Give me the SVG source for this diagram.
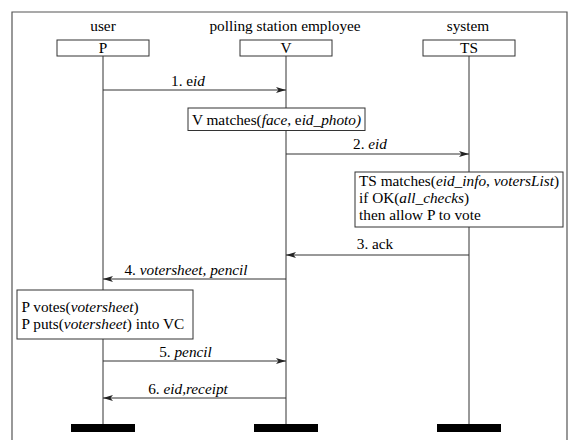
<svg xmlns="http://www.w3.org/2000/svg" width="568" height="440" viewBox="0 0 568 440" font-family="'Liberation Serif', 'Times New Roman', Tinos, 'DejaVu Serif', serif">
<style>
text{font-family:'Liberation Serif','Times New Roman',Tinos,'DejaVu Serif',serif;font-size:15.3px;fill:#000}
.m{text-anchor:middle}
.i{font-style:italic}
.box{fill:#fff;stroke:#333;stroke-width:1}
.life{stroke:#333;stroke-width:1;fill:none}
.msg{stroke:#333;stroke-width:1;fill:none;marker-end:url(#ah)}
.bar{fill:#000}
</style>
<defs>
<marker id="ah" viewBox="0 0 10 6" refX="10" refY="3" markerWidth="10" markerHeight="6" markerUnits="userSpaceOnUse" orient="auto">
<path d="M0,0 L10,3 L0,6 L2.5,3 z" fill="#222"/>
</marker>
</defs>
<rect width="568" height="440" fill="#fff"/>
<path d="M12,440 V12 H567 V440" fill="none" stroke="#555" stroke-width="1.2"/>
<g id="lifelines">
<line class="life" x1="103" y1="56" x2="103" y2="424"/>
<line class="life" x1="286" y1="56" x2="286" y2="424"/>
<line class="life" x1="469" y1="56" x2="469" y2="424"/>
</g>
<g id="user">
<text class="m" x="103" y="31">user</text>
<rect class="box" x="57" y="40" width="92" height="16"/>
<text class="m" x="103" y="52.5">P</text>
<rect class="bar" x="71" y="424" width="64" height="8"/>
</g>
<g id="employee">
<text class="m" x="285" y="31">polling station employee</text>
<rect class="box" x="240" y="40" width="92" height="16"/>
<text class="m" x="286" y="52.5">V</text>
<rect class="bar" x="254" y="424" width="64" height="8"/>
</g>
<g id="system">
<text class="m" x="468" y="31">system</text>
<rect class="box" x="423" y="40" width="92" height="16"/>
<text class="m" x="469" y="52.5">TS</text>
<rect class="bar" x="437" y="424" width="64" height="8"/>
</g>
<g id="connectors">
<line class="msg" x1="103" y1="90" x2="286" y2="90"/>
<line class="msg" x1="286" y1="154" x2="469" y2="154"/>
<line class="msg" x1="469" y1="255" x2="286" y2="255"/>
<line class="msg" x1="286" y1="279" x2="103" y2="279"/>
<line class="msg" x1="103" y1="361" x2="286" y2="361"/>
<line class="msg" x1="286" y1="398" x2="103" y2="398"/>
<text class="m" x="188" y="86">1. e<tspan class="i">id</tspan></text>
<text class="m" x="370" y="148.5">2. <tspan class="i">eid</tspan></text>
<text class="m" x="375" y="249">3. ack</text>
<text class="m" x="186" y="275">4. <tspan class="i">votersheet, pencil</tspan></text>
<text class="m" x="185.5" y="357">5. <tspan class="i">pencil</tspan></text>
<text class="m" x="188" y="393.5">6. <tspan class="i">eid,receipt</tspan></text>
</g>
<g id="vmatch">
<rect class="box" x="188" y="108" width="177" height="22.5"/>
<text class="m" x="276.5" y="124.5">V matches(<tspan class="i">face</tspan>, e<tspan class="i">id_photo)</tspan></text>
</g>
<g id="tsmatch">
<rect class="box" x="355" y="172" width="208" height="55"/>
<text x="359" y="186">TS matches(<tspan class="i">eid_info</tspan>, <tspan class="i">votersList</tspan>)</text>
<text x="359" y="203">if OK(<tspan class="i">all_checks</tspan>)</text>
<text x="359" y="220">then allow P to vote</text>
</g>
<g id="pvotes">
<rect class="box" x="17" y="290" width="176" height="49"/>
<text x="21.5" y="312">P votes(<tspan class="i">votersheet</tspan>)</text>
<text x="21.5" y="329">P puts(<tspan class="i">votersheet</tspan>) into VC</text>
</g>
</svg>
